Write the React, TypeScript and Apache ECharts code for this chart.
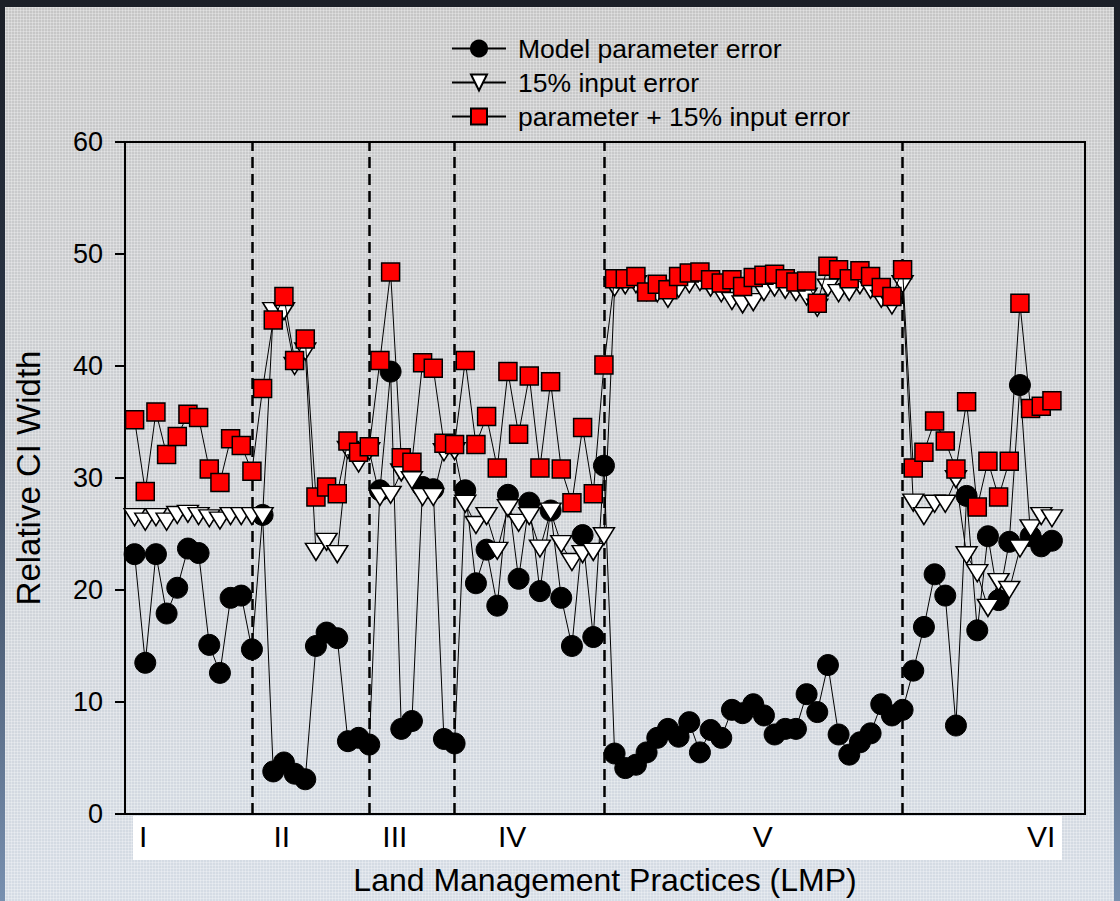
import React, { useEffect, useRef } from "react";
import * as echarts from "echarts";

const MODEL_PARAM = [
  23.2, 13.5, 23.2, 17.9, 20.2, 23.7, 23.3, 15.1, 12.6, 19.3, 19.5, 14.7,
  26.7, 3.8, 4.6, 3.6, 3.1, 15.0, 16.2, 15.7, 6.5, 6.8, 6.2,
  28.9, 39.5, 7.6, 8.3, 29.2, 29.0, 6.7, 6.3,
  28.9, 20.6, 23.6, 18.6, 28.5, 21.0, 27.8, 19.9, 27.1, 19.3, 15.0, 24.9, 15.8, 31.1,
  5.4, 4.1, 4.4, 5.5, 6.8, 7.6, 6.9, 8.2, 5.5, 7.5, 6.8, 9.3, 9.0, 9.8, 8.8, 7.1, 7.6, 7.6, 10.7, 9.1, 13.3, 7.1, 5.3, 6.4, 7.2, 9.8, 8.8, 9.3,
  12.8, 16.7, 21.4, 19.5, 7.9, 28.4, 16.4, 24.8, 19.1, 24.3, 38.3, 24.8, 23.9, 24.4,
];

const INPUT_15 = [
  26.5, 26.1, 26.5, 26.1, 26.7, 26.8, 26.6, 26.4, 26.2, 26.6, 26.6, 26.6,
  26.6, 44.9, 44.9, 40.0, 41.3, 23.4, 24.3, 23.2, 32.5, 31.3, 32.4,
  28.3, 28.5, 30.5, 29.8, 28.3, 28.3, 32.3, 32.4,
  27.7, 25.8, 26.6, 23.5, 27.3, 26.0, 26.6, 23.7, 27.0, 24.1, 22.5, 23.2, 23.4, 24.8,
  47.0, 47.2, 47.3, 46.6, 46.5, 46.0, 46.9, 47.3, 47.5, 47.0, 46.5, 45.8, 45.5, 45.7, 46.6, 47.0, 46.8, 46.6, 46.2, 45.2, 47.0, 46.5, 46.6, 47.2, 46.8, 46.0, 45.4, 47.3,
  27.8, 26.6, 27.7, 27.7, 29.9, 23.1, 21.5, 18.4, 20.7, 20.0, 23.7, 25.5, 26.6, 26.4,
];

const PARAM_PLUS_INPUT = [
  35.2, 28.8, 35.9, 32.1, 33.7, 35.7, 35.4, 30.8, 29.6, 33.5, 32.9, 30.6,
  38.0, 44.1, 46.2, 40.5, 42.4, 28.3, 29.2, 28.6, 33.3, 32.3, 32.8,
  40.5, 48.4, 31.8, 31.4, 40.3, 39.8, 33.1, 33.0,
  40.5, 33.0, 35.5, 30.9, 39.5, 33.9, 39.1, 30.9, 38.6, 30.8, 27.8, 34.5, 28.6, 40.1,
  47.8, 47.8, 48.0, 46.6, 47.3, 46.8, 48.0, 48.3, 48.4, 47.7, 47.4, 47.7, 47.1, 47.9, 48.1, 48.2, 47.8, 47.5, 47.6, 45.6, 48.9, 48.6, 47.8, 48.5, 48.0, 47.0, 46.2, 48.6,
  30.9, 32.3, 35.1, 33.3, 30.8, 36.8, 27.4, 31.5, 28.3, 31.5, 45.6, 36.2, 36.4, 36.9,
];

const SERIES_NAMES = [
  "Model parameter error",
  "15% input error",
  "parameter + 15% input error",
];

// Region boundaries (sample index where the dashed separators are drawn)
const BOUNDARIES = [11, 22, 30, 44, 72];
// Region labels and where they sit along the sample axis
const REGION_LABELS = ["I", "II", "III", "IV", "V", "VI"];
const REGION_LABEL_POS = [0.8, 13.8, 24.4, 35.4, 58.9, 85.0];

const Y_TICKS_MIN = 0;
const Y_TICKS_MAX = 60;
const Y_TICK_STEP = 10;

const FONT = "'Liberation Sans', Arial, Helvetica, sans-serif";

export default function App() {
  const ref = useRef<HTMLDivElement>(null);

  useEffect(() => {
    if (!ref.current) return;
    const chart = echarts.init(ref.current, undefined, { renderer: "svg" });

    const toPairs = (arr: number[]) => arr.map((v, i) => [i, v]);

    const option: any = {
      animation: false,
      backgroundColor: "transparent",
      textStyle: { fontFamily: FONT, color: "#000" },
      grid: {
        left: 125,
        right: 35,
        top: 142,
        bottom: 87,
        show: true,
        borderColor: "#000",
        borderWidth: 2,
        backgroundColor: "transparent",
      },
      legend: {
        orient: "vertical",
        left: 446,
        top: 30,
        itemWidth: 54,
        itemHeight: 20,
        itemGap: 7,
        textStyle: {
          fontFamily: FONT,
          fontSize: 26.5,
          color: "#000",
          padding: [0, 0, 0, 7],
        },
        data: SERIES_NAMES,
      },
      xAxis: {
        type: "value",
        min: -0.9,
        max: 89.1,
        splitLine: { show: false },
        axisLine: { show: true, onZero: false, lineStyle: { color: "#000", width: 2 } },
        axisTick: { show: false },
        axisLabel: {
          show: true,
          customValues: REGION_LABEL_POS,
          formatter: (val: number) => {
            let best = 0;
            let bd = Infinity;
            REGION_LABEL_POS.forEach((p, i) => {
              const d = Math.abs(p - val);
              if (d < bd) {
                bd = d;
                best = i;
              }
            });
            return REGION_LABELS[best];
          },
          fontFamily: FONT,
          fontSize: 30,
          color: "#000",
          margin: 7,
        },
        name: "Land Management Practices (LMP)",
        nameLocation: "middle",
        nameGap: 50,
        nameTextStyle: { fontFamily: FONT, fontSize: 32, color: "#000" },
        z: 5,
      },
      yAxis: {
        type: "value",
        min: Y_TICKS_MIN,
        max: Y_TICKS_MAX,
        interval: Y_TICK_STEP,
        splitLine: { show: false },
        axisLine: { show: true, onZero: false, lineStyle: { color: "#000", width: 2 } },
        axisTick: { show: true, inside: false, length: 10, lineStyle: { color: "#000", width: 2 } },
        axisLabel: { fontFamily: FONT, fontSize: 27, color: "#000", margin: 22 },
        name: "Relative CI Width",
        nameLocation: "middle",
        nameGap: 80,
        nameRotate: 90,
        nameTextStyle: { fontFamily: FONT, fontSize: 33, color: "#000" },
      },
      graphic: [
        {
          type: "rect",
          z: -10,
          shape: { x: 133, y: 816, width: 929, height: 44 },
          style: { fill: "#ffffff" },
        },
      ],
      series: [
        {
          name: SERIES_NAMES[0],
          type: "line",
          data: toPairs(MODEL_PARAM),
          symbol: "circle",
          symbolSize: 21,
          lineStyle: { color: "#000", width: 1 },
          itemStyle: { color: "#000", borderColor: "#000", borderWidth: 1 },
          z: 2,
          markLine: {
            silent: true,
            symbol: ["none", "none"],
            label: { show: false },
            lineStyle: { color: "#000", width: 2.5, type: [11, 6] },
            data: BOUNDARIES.map((b) => ({ xAxis: b })),
            z: 1,
          },
        },
        {
          name: SERIES_NAMES[1],
          type: "line",
          data: toPairs(INPUT_15),
          symbol: "triangle",
          symbolRotate: 180,
          symbolSize: [21, 17],
          lineStyle: { color: "#000", width: 1 },
          itemStyle: { color: "#fff", borderColor: "#000", borderWidth: 1.5 },
          z: 3,
        },
        {
          name: SERIES_NAMES[2],
          type: "line",
          data: toPairs(PARAM_PLUS_INPUT),
          symbol: "rect",
          symbolSize: 18,
          lineStyle: { color: "#000", width: 1 },
          itemStyle: { color: "#ff0000", borderColor: "#000", borderWidth: 1.5 },
          z: 4,
        },
      ],
    };

    chart.setOption(option);
    return () => chart.dispose();
  }, []);

  return (
    <div
      style={{
        position: "fixed",
        left: 0,
        top: 0,
        width: 1120,
        height: 901,
        background: "linear-gradient(to bottom, #1b1f27 0%, #2e3a4c 45%, #7890b0 100%)",
        overflow: "hidden",
      }}
    >
      <div
        style={{
          position: "absolute",
          left: 5,
          top: 7,
          right: 6,
          bottom: 0,
          backgroundColor: "#cccccc",
          backgroundImage:
            "linear-gradient(rgba(255,255,255,0.28) 1px, transparent 1px), linear-gradient(90deg, rgba(255,255,255,0.28) 1px, transparent 1px), linear-gradient(to bottom, #c6c6c6 0%, #cdd0d4 50%, #d5dce5 100%)",
          backgroundSize: "3px 3px, 3px 3px, 100% 100%",
        }}
      />
      <div
        ref={ref}
        style={{ position: "absolute", left: 0, top: 0, width: 1120, height: 901 }}
      />
    </div>
  );
}
